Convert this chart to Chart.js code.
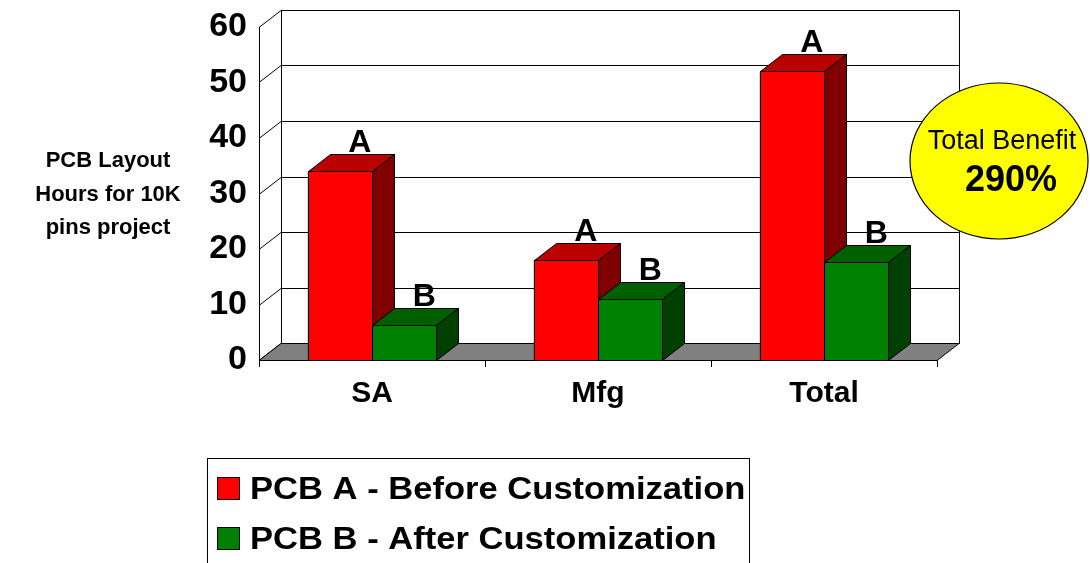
<!DOCTYPE html>
<html>
<head>
<meta charset="utf-8">
<script src="https://cdn.jsdelivr.net/npm/chart.js@4"></script>
<style>
  html, body { margin: 0; padding: 0; background: #fff; }
  #wrap { width: 1090px; height: 563px; }
</style>
</head>
<body>
<div id="wrap"><canvas id="grafico" width="1090" height="563"></canvas></div>
<script>
// Datos del grafico
var categorias = ["SA", "Mfg", "Total"];
var horasA = [34, 18, 52];
var horasB = [6.3, 11, 17.7];
var seriesNombres = ["PCB A - Before Customization", "PCB B - After Customization"];
var etiquetasBarra = ["A", "B"];
var tituloY = ["PCB Layout", "Hours for 10K", "pins project"];
var textoBeneficio = ["Total Benefit", "290%"];

var FUENTE = "'Liberation Sans', Arial, sans-serif";
var DX = 22, DY = -17; // profundidad del efecto 3D

var colores = [
  { frente: "#ff0000", arriba: "#bb0000", lado: "#800000" },
  { frente: "#008000", arriba: "#006000", lado: "#004000" }
];

function poligono(ctx, pts, relleno) {
  ctx.beginPath();
  ctx.moveTo(pts[0][0], pts[0][1]);
  for (var i = 1; i < pts.length; i++) ctx.lineTo(pts[i][0], pts[i][1]);
  ctx.closePath();
  if (relleno) { ctx.fillStyle = relleno; ctx.fill(); }
  ctx.stroke();
}

// texto un poco ensanchado en horizontal
function textoAncho(ctx, txt, x, y, sx) {
  ctx.save();
  ctx.translate(x, y);
  ctx.scale(sx, 1);
  ctx.fillText(txt, 0, 0);
  ctx.restore();
}

// Plugin que dibuja paredes, suelo y caras 3D de las barras
var efecto3D = {
  id: "efecto3D",
  beforeDatasetsDraw: function (chart) {
    var ctx = chart.ctx, a = chart.chartArea, y = chart.scales.y;
    ctx.save();
    ctx.strokeStyle = "#000";
    ctx.lineWidth = 1;
    // pared del fondo
    ctx.fillStyle = "#fff";
    ctx.fillRect(a.left + DX, a.top + DY, a.right - a.left, a.bottom - a.top);
    ctx.strokeRect(a.left + DX + 0.5, a.top + DY + 0.5, a.right - a.left, a.bottom - a.top);
    // lineas de la cuadricula
    y.ticks.forEach(function (t) {
      var py = Math.round(y.getPixelForValue(t.value)) + 0.5;
      ctx.beginPath();
      ctx.moveTo(a.left, py);
      ctx.lineTo(a.left + DX, py + DY);
      ctx.lineTo(a.right + DX, py + DY);
      ctx.stroke();
    });
    // suelo gris
    poligono(ctx, [
      [a.left, a.bottom + 0.5], [a.right, a.bottom + 0.5],
      [a.right + DX, a.bottom + DY + 0.5], [a.left + DX, a.bottom + DY + 0.5]
    ], "#808080");
    // eje vertical frontal
    ctx.beginPath();
    ctx.moveTo(a.left + 0.5, a.top);
    ctx.lineTo(a.left + 0.5, a.bottom);
    ctx.stroke();
    ctx.restore();
  },
  afterDatasetsDraw: function (chart) {
    var ctx = chart.ctx;
    ctx.save();
    ctx.strokeStyle = "#000";
    ctx.lineWidth = 1;
    for (var i = 0; i < categorias.length; i++) {
      chart.data.datasets.forEach(function (ds, j) {
        var bar = chart.getDatasetMeta(j).data[i];
        var izq = Math.round(bar.x - bar.width / 2) + 0.5;
        var der = Math.round(bar.x + bar.width / 2) + 0.5;
        var top = Math.round(bar.y) + 0.5;
        var base = Math.round(bar.base) + 0.5;
        var c = colores[j];
        poligono(ctx, [[izq, top], [der, top], [der + DX, top + DY], [izq + DX, top + DY]], c.arriba);
        poligono(ctx, [[der, top], [der + DX, top + DY], [der + DX, base + DY], [der, base]], c.lado);
        poligono(ctx, [[izq, top], [der, top], [der, base], [izq, base]], c.frente);
        ctx.fillStyle = "#000";
        ctx.font = "bold 32px " + FUENTE;
        ctx.textAlign = "center";
        ctx.textBaseline = "alphabetic";
        ctx.fillText(etiquetasBarra[j], bar.x + 20, top + DY - 3);
      });
    }
    ctx.restore();
  },
  afterDraw: function (chart) {
    var ctx = chart.ctx;
    ctx.save();
    // titulo del eje Y
    ctx.fillStyle = "#000";
    ctx.font = "bold 22px " + FUENTE;
    ctx.textAlign = "center";
    ctx.textBaseline = "middle";
    tituloY.forEach(function (linea, k) {
      ctx.fillText(linea, 108, 161 + k * 33.5);
    });
    // elipse de beneficio
    ctx.beginPath();
    ctx.ellipse(999, 161, 89, 78, 0, 0, Math.PI * 2);
    ctx.fillStyle = "#ffff00";
    ctx.fill();
    ctx.strokeStyle = "#000";
    ctx.lineWidth = 1.2;
    ctx.stroke();
    ctx.fillStyle = "#000";
    ctx.font = "27px " + FUENTE;
    ctx.fillText(textoBeneficio[0], 1002, 142);
    ctx.font = "bold 36px " + FUENTE;
    ctx.fillText(textoBeneficio[1], 1011, 181);
    // leyenda
    ctx.lineWidth = 1;
    ctx.strokeRect(207.5, 458.5, 542, 130);
    ctx.textAlign = "left";
    ctx.font = "bold 32px " + FUENTE;
    chart.data.datasets.forEach(function (ds, j) {
      var cy = 489 + j * 50;
      ctx.fillStyle = ds.backgroundColor;
      ctx.fillRect(217.5, cy - 11.5, 22, 22);
      ctx.strokeStyle = "#000";
      ctx.strokeRect(217.5, cy - 11.5, 22, 22);
      ctx.fillStyle = "#000";
      textoAncho(ctx, ds.label, 250, cy + 1, 1.08);
    });
    ctx.restore();
  }
};

var ctx = document.getElementById("grafico").getContext("2d");
var chart = new Chart(ctx, {
  type: "bar",
  data: {
    labels: categorias,
    datasets: [
      {
        label: seriesNombres[0],
        data: horasA,
        backgroundColor: colores[0].frente,
        borderColor: "#000",
        borderWidth: 1
      },
      {
        label: seriesNombres[1],
        data: horasB,
        backgroundColor: colores[1].frente,
        borderColor: "#000",
        borderWidth: 1
      }
    ]
  },
  options: {
    responsive: false,
    devicePixelRatio: 1,
    animation: false,
    barPercentage: 1,
    categoryPercentage: 0.57,
    layout: { padding: { top: 27, right: 153, left: 0, bottom: 0 } },
    plugins: {
      legend: { display: false },
      tooltip: { enabled: false }
    },
    scales: {
      x: {
        grid: { display: true, drawOnChartArea: false, drawTicks: true, tickLength: 7, color: "#000" },
        border: { display: true, color: "#000" },
        ticks: { color: "#000", padding: 9, font: { family: FUENTE, weight: "bold", size: 30 } },
        afterFit: function (scale) { scale.height = 203; }
      },
      y: {
        min: 0,
        max: 60,
        grid: { display: false, drawTicks: false },
        border: { display: false },
        ticks: { stepSize: 10, color: "#000", padding: 12, font: { family: FUENTE, weight: "bold", size: 34 } },
        afterFit: function (scale) {
          scale.width = 259;
          scale.paddingTop = 0;
          scale.paddingBottom = 0;
        }
      }
    }
  },
  plugins: [efecto3D]
});
</script>
</body>
</html>
